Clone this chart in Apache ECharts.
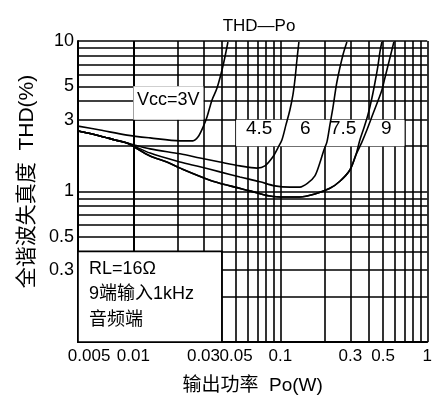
<!DOCTYPE html>
<html><head><meta charset="utf-8">
<script src="https://cdn.jsdelivr.net/npm/echarts@6/dist/echarts.min.js"></script>
<style>html,body{margin:0;padding:0;background:#fff}#c{width:435px;height:407px}</style>
</head><body><div id="c"></div>
<script>
// Tick labels
const xTickValues = [0.005, 0.01, 0.03, 0.05, 0.1, 0.3, 0.5, 1];
const yTickValues = [0.3, 0.5, 1, 3, 5, 10];
// Grid lines (log grid)
const xGridValues = [0.005,0.006,0.007,0.008,0.009,0.01,0.02,0.03,0.04,0.05,0.06,0.07,0.08,0.09,0.1,0.2,0.3,0.4,0.5,0.6,0.7,0.8,0.9,1];
const yGridValues = [0.2,0.3,0.4,0.5,0.6,0.7,0.8,0.9,1,2,3,4,5,6,7,8,9,10];
// Curves: [Po (W), THD (%)]
const vcc3 = [[0.0042,2.72],[0.00593,2.56],[0.00905,2.37],[0.013,2.27],[0.0208,2.17],[0.0254,2.17],[0.0275,2.30],[0.0298,2.68],[0.0317,3.13],[0.0343,4.06],[0.0371,4.87],[0.0407,6.82],[0.044,9.85]];
const vcc45 = [[0.0042,2.52],[0.00593,2.34],[0.0075,2.20],[0.00905,2.10],[0.013,1.92],[0.0208,1.78],[0.0284,1.67],[0.0388,1.57],[0.0531,1.48],[0.0693,1.43],[0.0786,1.48],[0.0891,1.70],[0.0963,1.95],[0.1025,2.20],[0.1092,2.77],[0.1162,3.48],[0.1218,4.38],[0.1257,5.51],[0.1297,7.48],[0.1338,9.85]];
const vcc6 = [[0.0042,2.52],[0.00593,2.34],[0.0075,2.20],[0.00905,2.10],[0.013,1.80],[0.0208,1.57],[0.0284,1.46],[0.0388,1.35],[0.0531,1.25],[0.0727,1.16],[0.0919,1.09],[0.1162,1.07],[0.1359,1.07],[0.1541,1.14],[0.1719,1.27],[0.1859,1.55],[0.198,1.89],[0.2075,2.13],[0.2175,2.77],[0.2279,3.59],[0.2427,5.34],[0.2667,8.07],[0.2838,9.85]];
const vcc75 = [[0.0042,2.52],[0.00593,2.34],[0.0075,2.20],[0.00905,2.10],[0.013,1.72],[0.0169,1.57],[0.0208,1.43],[0.0332,1.19],[0.0454,1.09],[0.0621,1.01],[0.085,0.933],[0.1075,0.919],[0.1359,0.919],[0.1719,0.962],[0.2175,1.05],[0.2543,1.17],[0.2975,1.39],[0.3268,1.75],[0.3478,2.20],[0.3704,2.64],[0.3943,3.22],[0.42,4.18],[0.4401,5.26],[0.4613,6.82],[0.4761,8.45],[0.4912,9.85]];
const vcc9 = [[0.0042,2.52],[0.00593,2.34],[0.0075,2.20],[0.00905,2.10],[0.013,1.72],[0.0169,1.57],[0.0208,1.43],[0.0332,1.19],[0.0454,1.09],[0.0621,1.01],[0.085,0.933],[0.1075,0.919],[0.1359,0.919],[0.1719,0.962],[0.2175,1.05],[0.2543,1.17],[0.2975,1.39],[0.3268,1.75],[0.359,2.13],[0.3881,2.56],[0.4266,3.27],[0.4613,3.99],[0.4912,4.73],[0.5147,5.68],[0.5395,6.82],[0.5655,8.20],[0.5926,9.85]];
const curveNames = ['Vcc=3V','4.5','6','7.5','9'];
const curves = [vcc3, vcc45, vcc6, vcc75, vcc9];
// White label regions [[x0,y0],[x1,y1]] in data units
const blankAreas = [
  [[0.01, 3], [0.03, 5]],
  [[0.05, 2], [0.7, 3]]
];
const noteBox = [[0.0042, 0.1], [0.04, 0.4]];

const FONT = "'Liberation Sans', 'Noto Sans CJK SC', sans-serif";
const fmt = v => String(parseFloat(Number(v).toPrecision(3)));

const chart = echarts.init(document.getElementById('c'), null, {renderer: 'canvas'});

const series = [];
series.push({
  type: 'line', data: [], silent: true, z: 1,
  markLine: {
    silent: true, symbol: ['none','none'], z: 1, animation: false,
    label: {show: false},
    lineStyle: {color: '#000', width: 1.6, type: 'solid'},
    emphasis: {disabled: true},
    data: xGridValues.map(v => ({xAxis: v})).concat(yGridValues.map(v => ({yAxis: v})))
  }
});
series.push({
  type: 'line', data: [], silent: true, z: 2,
  markArea: {
    silent: true, z: 2, animation: false,
    itemStyle: {color: '#fff', opacity: 1},
    emphasis: {disabled: true},
    data: blankAreas.map(a => [{coord: a[0]}, {coord: a[1]}]).concat([[
      {coord: noteBox[0], itemStyle: {color: '#fff', borderColor: '#000', borderWidth: 1.6}},
      {coord: noteBox[1]}
    ]])
  }
});
curves.forEach((d, i) => series.push({
  name: curveNames[i], type: 'line', data: d, z: 3,
  showSymbol: false, symbol: 'none', smooth: 0.3, animation: false,
  lineStyle: {color: '#000', width: 1.6}
}));

chart.setOption({
  animation: false,
  backgroundColor: '#fff',
  title: {text: 'THD—Po', left: 254, textAlign: 'center', top: 13,
    textStyle: {fontFamily: FONT, fontSize: 17, fontWeight: 'normal', color: '#000'}},
  grid: {left: 78, right: 7, top: 41, bottom: 65, containLabel: false},
  xAxis: {
    type: 'log', logBase: 10, min: 0.0042, max: 1,
    name: '输出功率  Po(W)', nameLocation: 'middle', nameGap: 34,
    nameTextStyle: {fontFamily: FONT, fontSize: 19, color: '#000'},
    axisLine: {show: true, lineStyle: {color: '#000', width: 2}},
    axisTick: {show: false},
    splitLine: {show: false},
    minorSplitLine: {show: false},
    axisLabel: {customValues: xTickValues, formatter: fmt, fontFamily: FONT, fontSize: 17,
      color: '#000', margin: 6, showMinLabel: true, showMaxLabel: true}
  },
  yAxis: {
    type: 'log', logBase: 10, min: 0.1, max: 10,
    name: '全谐波失真度  THD(%)', nameLocation: 'middle', nameGap: 37, nameRotate: 90,
    nameTextStyle: {fontFamily: FONT, fontSize: 21, color: '#000', padding: [0, 0, 0, 20]},
    axisLine: {show: true, lineStyle: {color: '#000', width: 2}},
    axisTick: {show: false},
    splitLine: {show: false},
    axisLabel: {customValues: yTickValues, formatter: fmt, fontFamily: FONT, fontSize: 18,
      color: '#000', margin: 4}
  },
  graphic: [
    {type: 'text', left: 137, top: 91, z: 10, style: {text: 'Vcc=3V', fontFamily: FONT, fontSize: 18, fill: '#000'}},
    {type: 'text', left: 246, top: 119, z: 10, style: {text: '4.5', fontFamily: FONT, fontSize: 19, fill: '#000'}},
    {type: 'text', left: 300, top: 119, z: 10, style: {text: '6', fontFamily: FONT, fontSize: 19, fill: '#000'}},
    {type: 'text', left: 330, top: 119, z: 10, style: {text: '7.5', fontFamily: FONT, fontSize: 19, fill: '#000'}},
    {type: 'text', left: 381, top: 119, z: 10, style: {text: '9', fontFamily: FONT, fontSize: 19, fill: '#000'}},
    {type: 'text', left: 89, top: 260, z: 10, style: {text: 'RL=16Ω', fontFamily: FONT, fontSize: 18, fill: '#000'}},
    {type: 'text', left: 89, top: 285, z: 10, style: {text: '9端输入1kHz', fontFamily: FONT, fontSize: 18, fill: '#000'}},
    {type: 'text', left: 89, top: 311, z: 10, style: {text: '音频端', fontFamily: FONT, fontSize: 18, fill: '#000'}}
  ],
  series: series
});
</script></body></html>
